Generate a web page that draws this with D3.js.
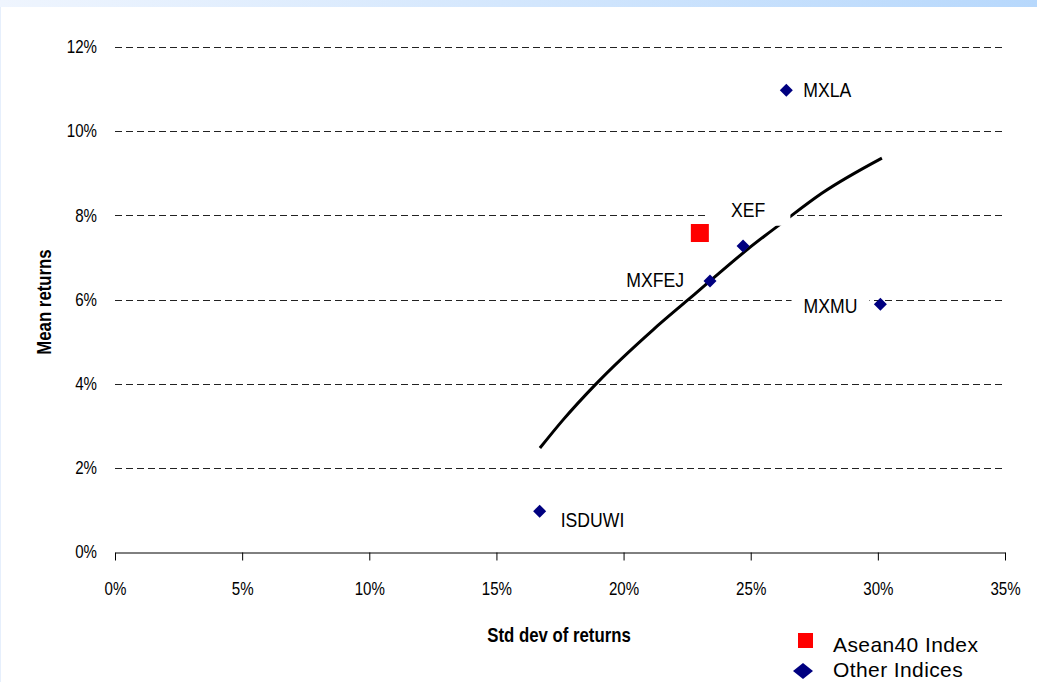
<!DOCTYPE html>
<html><head><meta charset="utf-8">
<script src="https://cdn.jsdelivr.net/npm/d3@7/dist/d3.min.js"></script>
<style>body{margin:0;background:#fff;overflow:hidden}</style>
</head><body><svg id="c" width="1037" height="682"></svg>
<script>
// ---- data ----
const xTicks = [0, 5, 10, 15, 20, 25, 30, 35];
const yTicks = [0, 2, 4, 6, 8, 10, 12];
const otherNames = ["MXLA", "XEF", "MXFEJ", "MXMU", "ISDUWI"];
const otherStd  = [26.4, 24.7, 23.4, 30.1, 16.7];
const otherMean = [10.97, 7.27, 6.44, 5.89, 0.97];
const aseanNames = ["Asean40 Index"];
const aseanStd  = [23.0];
const aseanMean = [7.58];
const frontierStd  = [16.71, 17.62, 18.91, 21.16, 22.53, 23.40, 24.85, 26.27, 27.81, 30.16];
const frontierMean = [2.47, 3.14, 3.99, 5.28, 5.99, 6.44, 7.18, 7.84, 8.53, 9.36];
const legendLabels = ["Asean40 Index", "Other Indices"];
const xTitle = "Std dev of returns";
const yTitle = "Mean returns";

// ---- layout / style ----
const SANS = "'Liberation Sans',Arial,sans-serif";
const SX = 0.84; // horizontal condensing of the narrow chart font
const svg = d3.select("#c");
const x = d3.scaleLinear().domain([0, 35]).range([115, 1005]);
const y = d3.scaleLinear().domain([0, 12]).range([552, 47]);

function squeeze(sel) {
  sel.each(function () {
    const t = d3.select(this);
    const xv = +(t.attr("x") || 0);
    t.attr("x", xv / SX);
    const tr = t.attr("transform") || "";
    t.attr("transform", tr + ` scale(${SX},1)`);
  });
}

// top banner
const defs = svg.append("defs");
const g0 = defs.append("linearGradient").attr("id", "ban").attr("x1", 0).attr("x2", 1).attr("y1", 0).attr("y2", 0);
g0.append("stop").attr("offset", 0).attr("stop-color", "#eff5fe");
g0.append("stop").attr("offset", 1).attr("stop-color", "#b7d8fc");
svg.append("rect").attr("x", 0).attr("y", 0).attr("width", 1037).attr("height", 7).attr("fill", "url(#ban)");
svg.append("line").attr("x1", 0.5).attr("x2", 0.5).attr("y1", 7).attr("y2", 682).attr("stroke", "#e6effc").attr("stroke-width", 1);

// gridlines
svg.append("g").selectAll("line").data(yTicks.filter(d => d > 0)).join("line")
  .attr("x1", x(0)).attr("x2", x(35))
  .attr("y1", d => Math.round(y(d)) + 0.5).attr("y2", d => Math.round(y(d)) + 0.5)
  .attr("stroke", "#222").attr("stroke-width", 1).attr("stroke-dasharray", "7,4");

// x axis
const xa = svg.append("g").attr("transform", `translate(0,${Math.round(y(0)) + 0.5})`)
  .call(d3.axisBottom(x).tickValues(xTicks).tickSize(8).tickSizeOuter(0).tickPadding(22).tickFormat(d => d + "%"));
xa.select(".domain").attr("stroke", "#000");
xa.selectAll(".tick line").attr("stroke", "#000");
xa.selectAll("text").attr("font-family", SANS).attr("font-size", 18).attr("fill", "#000").call(squeeze);

// y axis (labels only)
const ya = svg.append("g").attr("transform", `translate(${x(0)},0)`)
  .call(d3.axisLeft(y).tickValues(yTicks).tickSize(0).tickPadding(18).tickFormat(d => d + "%"));
ya.select(".domain").remove();
ya.selectAll("text").attr("font-family", SANS).attr("font-size", 18).attr("fill", "#000").call(squeeze);

// axis titles
svg.append("text").attr("transform", "translate(559,635)").attr("dy", "0.35em").attr("text-anchor", "middle")
  .attr("font-family", SANS).attr("font-weight", "bold").attr("font-size", 20).text(xTitle).call(squeeze);
svg.append("text").attr("transform", "translate(44,302) rotate(-90)").attr("dy", "0.35em").attr("text-anchor", "middle")
  .attr("font-family", SANS).attr("font-weight", "bold").attr("font-size", 20).text(yTitle).call(squeeze);

// frontier curve
const fr = frontierStd.map((s, i) => [s, frontierMean[i]]);
svg.append("path").datum(fr)
  .attr("d", d3.line().x(d => x(d[0])).y(d => y(d[1])).curve(d3.curveMonotoneX))
  .attr("fill", "none").attr("stroke", "#000").attr("stroke-width", 3).attr("stroke-linejoin", "round");

// point labels with white boxes
const labelCfg = {
  MXLA:   {anchor: "start",  dx: 17,  dy: -1,  px: 4,  py: 2},
  XEF:    {anchor: "middle", dx: 5,   dy: -36, px: 25, py: 4},
  MXFEJ:  {anchor: "end",    dx: -26, dy: -1,  px: 4,  py: 2},
  MXMU:   {anchor: "end",    dx: -23, dy: 2,   px: 12, py: 3},
  ISDUWI: {anchor: "start",  dx: 21,  dy: 8,   px: 4,  py: 2}
};
const lgBoxes = svg.append("g");
const lgText = svg.append("g");
otherNames.forEach((n, i) => {
  const c = labelCfg[n];
  const t = lgText.append("text")
    .attr("x", (x(otherStd[i]) + c.dx) / SX).attr("y", y(otherMean[i]) + c.dy).attr("dy", "0.35em")
    .attr("transform", `scale(${SX},1)`)
    .attr("text-anchor", c.anchor).attr("font-family", SANS).attr("font-size", 21).attr("fill", "#000").text(n);
  const b = t.node().getBBox();
  lgBoxes.append("rect")
    .attr("x", b.x * SX - c.px).attr("y", b.y - c.py + 2).attr("width", b.width * SX + 2 * c.px).attr("height", b.height + 2 * c.py - 2)
    .attr("fill", "#fff");
});

// other indices points (diamonds)
const dia = (cx, cy, rx, ry) => `M${cx},${cy - ry}L${cx + rx},${cy}L${cx},${cy + ry}L${cx - rx},${cy}Z`;
svg.append("g").selectAll("path").data(otherNames.map((n, i) => [otherStd[i], otherMean[i]])).join("path")
  .attr("d", d => dia(x(d[0]), y(d[1]), 6.5, 6.5)).attr("fill", "#000080");

// asean point (square)
svg.append("g").selectAll("rect").data(aseanNames.map((n, i) => [aseanStd[i], aseanMean[i]])).join("rect")
  .attr("x", d => x(d[0]) - 9).attr("y", d => y(d[1]) - 9).attr("width", 18).attr("height", 18).attr("fill", "#ff0000");

// legend
const leg = svg.append("g");
leg.append("rect").attr("x", 798).attr("y", 633).attr("width", 15).attr("height", 15).attr("fill", "#ff0000");
leg.append("path").attr("d", dia(803, 671, 10, 8)).attr("fill", "#000080");
leg.selectAll("text").data(legendLabels).join("text")
  .attr("x", 833).attr("y", (d, i) => 652 + i * 25)
  .attr("font-family", SANS).attr("font-size", 21).attr("letter-spacing", 0.4).attr("fill", "#000").text(d => d);
</script>
</body></html>
